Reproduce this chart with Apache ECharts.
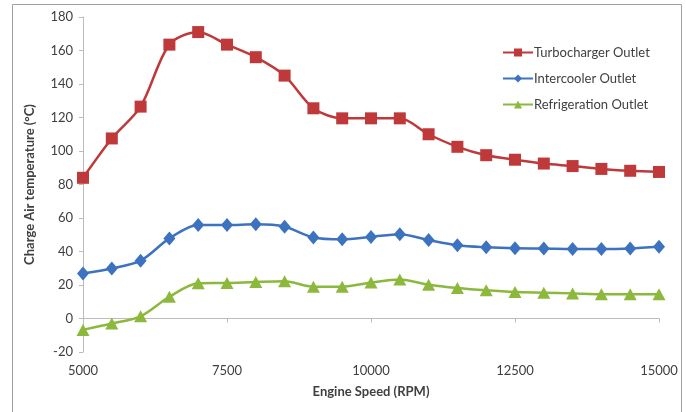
<!DOCTYPE html>
<html>
<head>
<meta charset="utf-8">
<script src="https://cdn.jsdelivr.net/npm/echarts@6/dist/echarts.min.js"></script>
<style>
html,body{margin:0;padding:0;background:#fff;}
#chart{width:686px;height:412px;}
</style>
</head>
<body>
<div id="chart"></div>
<script>
const rpm = [5000,5500,6000,6500,7000,7500,8000,8500,9000,9500,10000,10500,11000,11500,12000,12500,13000,13500,14000,14500,15000];
const turbocharger = [84,107.5,126.5,163.5,171,163.5,156,145,125.5,119.5,119.5,119.5,110,102.5,97.5,94.8,92.5,91,89.3,88.2,87.5];
const intercooler = [26.8,29.8,34.5,47.8,55.8,55.8,56.2,54.8,48.4,47.3,48.7,50.3,46.8,43.7,42.5,41.9,41.8,41.5,41.5,41.8,42.8];
const refrigeration = [-6.8,-3,1.3,13,21,21.2,21.8,22.2,19,19,21.5,23.3,20.2,18.2,16.8,15.8,15.4,15,14.5,14.5,14.5];
const yTicks = {min:-20, max:180, interval:20};
const xTicks = {min:5000, max:15000, interval:2500};
const names = ['Turbocharger Outlet','Intercooler Outlet','Refrigeration Outlet'];

const pairs = arr => rpm.map((r,i)=>[r,arr[i]]);
const font = 'Lato, "Liberation Sans", sans-serif';
const txt = '#404040';

const chart = echarts.init(document.getElementById('chart'), null, {renderer:'canvas'});
chart.setOption({
  animation:false,
  backgroundColor:'#fff',
  textStyle:{fontFamily:font},
  graphic:[{type:'rect',shape:{x:12.5,y:4.5,width:669,height:420},style:{fill:'none',stroke:'#a0a0a0',lineWidth:1},silent:true}],
  grid:{left:83,right:27,top:17,bottom:60},
  legend:{
    orient:'vertical', left:497, top:41, itemWidth:30, itemHeight:10, itemGap:13,
    textStyle:{fontFamily:font,fontSize:13,color:txt,padding:[0,0,0,-4]},
    data:names
  },
  xAxis:{
    type:'value', min:xTicks.min, max:xTicks.max, interval:xTicks.interval,
    name:'Engine Speed (RPM)', nameLocation:'middle', nameGap:33,
    nameTextStyle:{fontFamily:font,fontSize:13,fontWeight:'bold',color:txt},
    axisLine:{lineStyle:{color:'#bcbcbc',width:1}},
    axisTick:{show:true,length:4,lineStyle:{color:'#bcbcbc'}},
    axisLabel:{fontFamily:font,fontSize:13,color:txt,margin:12,formatter:v=>String(v)},
    splitLine:{show:false}
  },
  yAxis:{
    type:'value', min:yTicks.min, max:yTicks.max, interval:yTicks.interval,
    name:'Charge Air temperature (°C)', nameLocation:'middle', nameGap:47, nameRotate:90,
    nameTextStyle:{fontFamily:font,fontSize:13,fontWeight:'bold',color:txt},
    axisLine:{show:true,lineStyle:{color:'#bcbcbc',width:1}},
    axisTick:{show:true,length:4,lineStyle:{color:'#bcbcbc'}},
    axisLabel:{fontFamily:font,fontSize:13,color:txt,margin:10,formatter:v=>String(v)},
    splitLine:{show:false}
  },
  series:[
    {name:names[0],type:'line',data:pairs(turbocharger),smooth:0.3,symbol:'rect',symbolSize:12,
      itemStyle:{color:'#c0393a'},lineStyle:{color:'#c0393a',width:2.5}},
    {name:names[1],type:'line',data:pairs(intercooler),smooth:0.3,symbol:'diamond',symbolSize:[12,14],
      itemStyle:{color:'#3d72c0'},lineStyle:{color:'#3d72c0',width:2.5}},
    {name:names[2],type:'line',data:pairs(refrigeration),smooth:0.3,symbol:'triangle',symbolSize:[13,12],
      itemStyle:{color:'#8cb83c'},lineStyle:{color:'#8cb83c',width:2.5}}
  ]
});
</script>
</body>
</html>
